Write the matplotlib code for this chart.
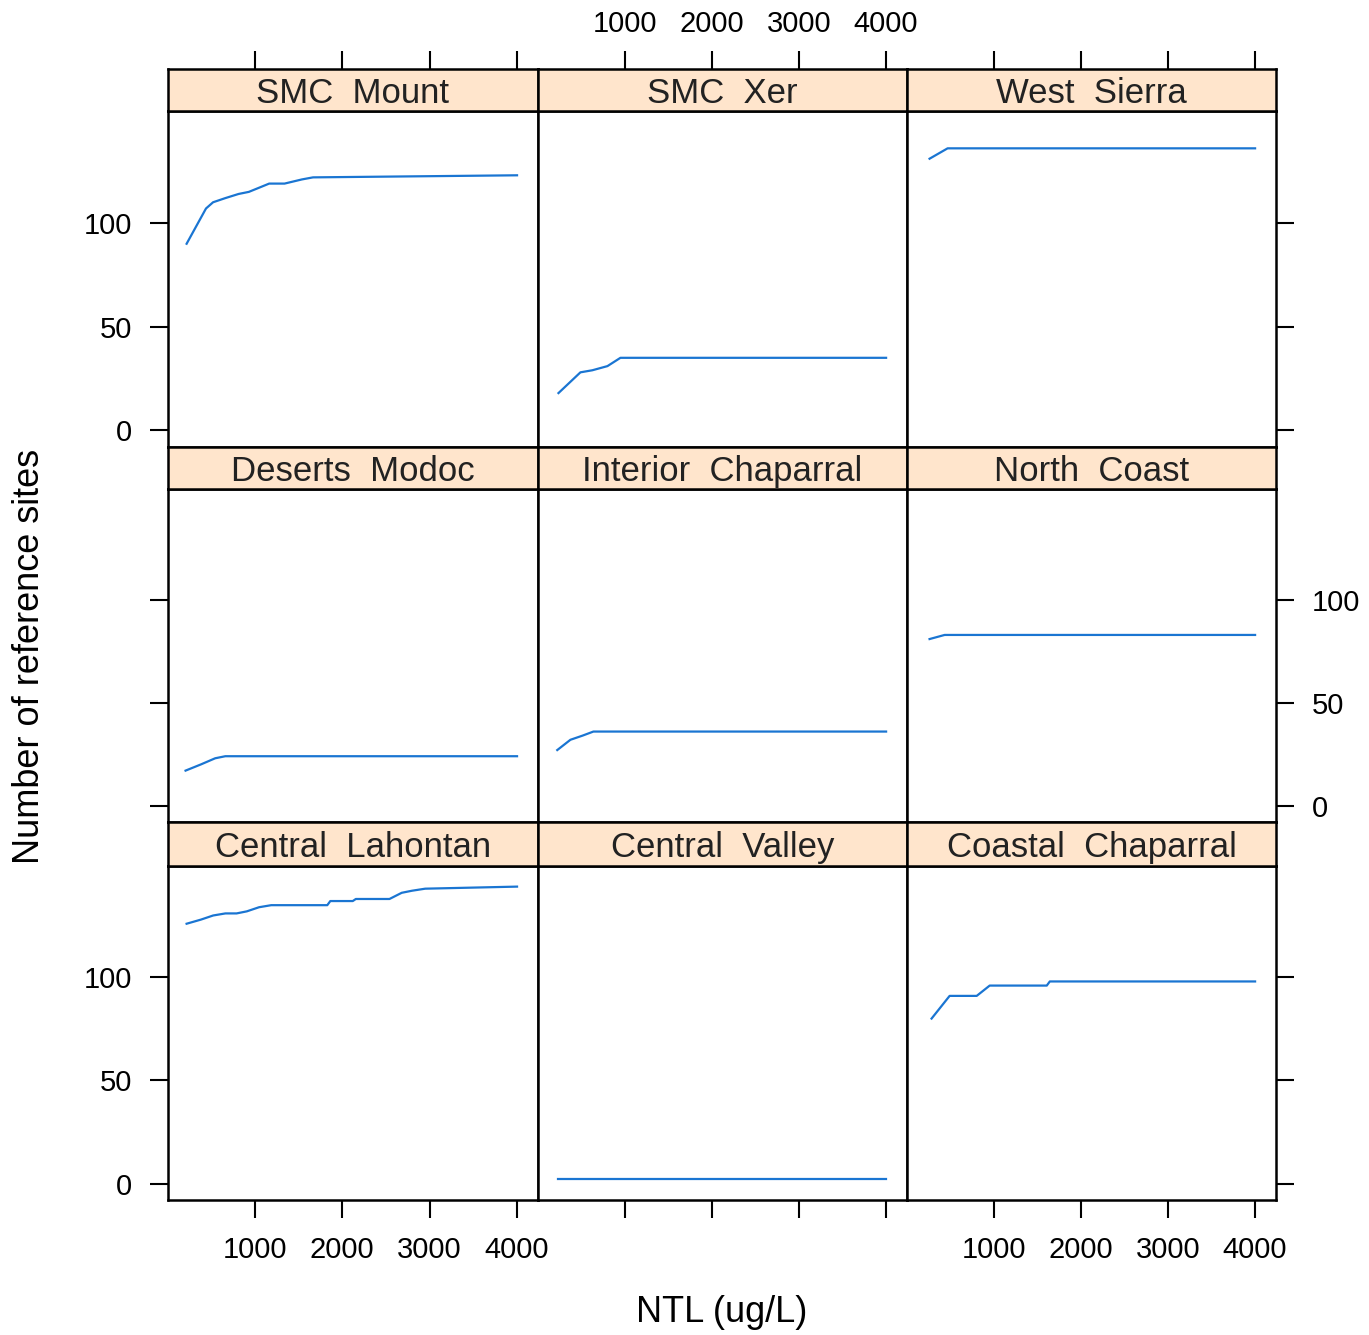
import numpy as np
import matplotlib.pyplot as plt

plt.rcParams['font.family'] = ['Liberation Sans', 'DejaVu Sans']

# panel order: top row first, left to right
regions = ['SMC  Mount', 'SMC  Xer', 'West  Sierra',
           'Deserts  Modoc', 'Interior  Chaparral', 'North  Coast',
           'Central  Lahontan', 'Central  Valley', 'Coastal  Chaparral']

# NTL threshold (ug/L) vs number of reference sites
smc_mount_x = [218, 440, 521, 661, 813, 930, 1047, 1163, 1339, 1537, 1665, 4000]
smc_mount_y = [90, 107, 110, 112, 114, 115, 117, 119, 119, 121, 122, 123]

smc_xer_x = [240, 492, 629, 802, 951, 4000]
smc_xer_y = [18, 28, 29, 31, 35, 35]

west_sierra_x = [264, 471, 4000]
west_sierra_y = [131, 136, 136]

deserts_modoc_x = [206, 381, 545, 661, 4000]
deserts_modoc_y = [17, 20, 23, 24, 24]

interior_chap_x = [226, 377, 515, 641, 4000]
interior_chap_y = [27, 32, 34, 36, 36]

north_coast_x = [264, 437, 4000]
north_coast_y = [81, 83, 83]

central_lahontan_x = [218, 382, 522, 662, 790, 907, 1047, 1187, 1828, 1863,
                      2120, 2155, 2540, 2680, 2797, 2949, 4000]
central_lahontan_y = [126, 128, 130, 131, 131, 132, 134, 135, 135, 137,
                      137, 138, 138, 141, 142, 143, 144]

central_valley_x = [240, 4000]
central_valley_y = [2, 2]

coastal_chap_x = [287, 494, 805, 954, 1609, 1644, 4000]
coastal_chap_y = [80, 91, 91, 96, 96, 98, 98]

series_x = [smc_mount_x, smc_xer_x, west_sierra_x, deserts_modoc_x, interior_chap_x,
            north_coast_x, central_lahontan_x, central_valley_x, coastal_chap_x]
series_y = [smc_mount_y, smc_xer_y, west_sierra_y, deserts_modoc_y, interior_chap_y,
            north_coast_y, central_lahontan_y, central_valley_y, coastal_chap_y]

xticks = [1000, 2000, 3000, 4000]
yticks = [0, 50, 100]

W, H = 1369, 1335
fig = plt.figure(figsize=(W / 100, H / 100), dpi=100)


def box(l, t, r, b):
    return [l / W, 1 - b / H, (r - l) / W, (b - t) / H]


cols = [(168, 538), (538, 907), (907, 1276)]
rows = [(69, 111, 447), (447, 489, 822), (822, 866, 1200)]  # strip top, panel top, panel bottom

line_col = '#1a75d2'
strip_col = '#ffe5cc'
lw_frame = 1.8
tick_kw = dict(direction='out', length=13, width=1.5, labelsize=21, colors='black')

for i, name in enumerate(regions):
    r, c = divmod(i, 3)
    l, rr = cols[c]
    st, pt, pb = rows[r]

    ax = fig.add_axes(box(l, pt, rr, pb))
    ax.plot(series_x[i], series_y[i], color=line_col, lw=1.6)
    ax.set_xlim(5, 4240)
    ax.set_ylim(-8, 154)
    ax.set_xticks(xticks)
    ax.set_yticks(yticks)
    ax.tick_params(**tick_kw)
    ax.tick_params(axis='x', bottom=(r == 2), top=False,
                   labelbottom=(r == 2 and c != 1), labeltop=False, pad=13)
    ax.tick_params(axis='y', left=(c == 0), right=(c == 2),
                   labelleft=(c == 0 and r != 1), labelright=(c == 2 and r == 1), pad=13)
    for s in ax.spines.values():
        s.set_linewidth(lw_frame)

    sax = fig.add_axes(box(l, st, rr, pt))
    sax.set_facecolor(strip_col)
    sax.set_xlim(5, 4240)
    sax.set_yticks([])
    if r == 0:
        sax.set_xticks(xticks)
        sax.tick_params(**tick_kw)
        sax.tick_params(axis='x', top=True, bottom=False,
                        labeltop=(c == 1), labelbottom=False, pad=9)
    else:
        sax.set_xticks([])
    for s in sax.spines.values():
        s.set_linewidth(lw_frame)
    sax.text(0.5, 0.42, name, transform=sax.transAxes, ha='center', va='center',
             fontsize=25, color='#222222')

fig.text(30 / W, 1 - 656 / H, 'Number of reference sites', rotation=90,
         ha='center', va='center', fontsize=26)
fig.text(722 / W, 1 - 1312 / H, 'NTL (ug/L)', ha='center', va='center', fontsize=26)

fig.savefig('out.png', dpi=100, facecolor='white')
